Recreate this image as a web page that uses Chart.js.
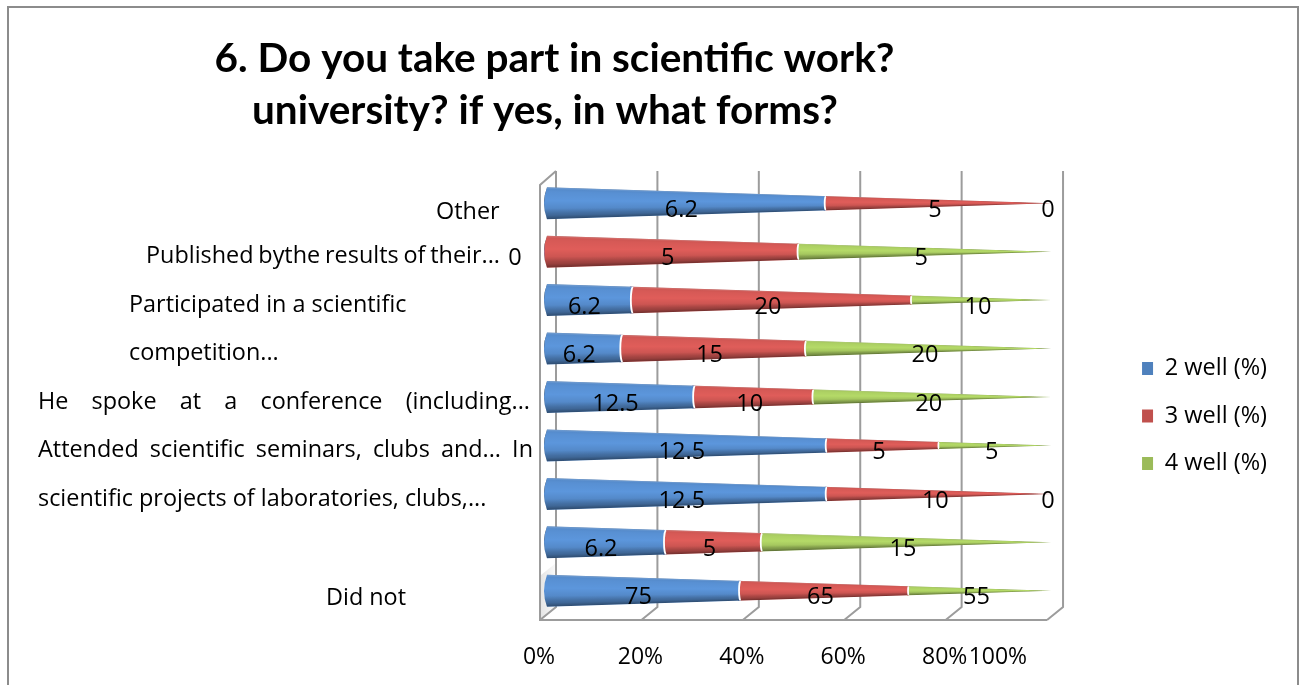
<!DOCTYPE html>
<html>
<head>
<meta charset="utf-8">
<title>Scientific work</title>
<script src="https://cdn.jsdelivr.net/npm/chart.js@4"></script>
<style>
  html, body { margin: 0; padding: 0; background: #fff; overflow: hidden; }
  canvas { display: block; }
</style>
</head>
<body>
<canvas id="chart" width="1303" height="685"></canvas>
<script>
// data, top row first
const rowLabels = [
  'Other',
  'Published bythe results of their...',
  'Participated in a scientific',
  'competition...',
  'He spoke at a conference (including...',
  'Attended scientific seminars, clubs and... In',
  'scientific projects of laboratories, clubs,...',
  '',
  'Did not'
];
const well2 = [6.2, 0, 6.2, 6.2, 12.5, 12.5, 12.5, 6.2, 75];
const well3 = [5, 5, 20, 15, 10, 5, 10, 5, 65];
const well4 = [0, 5, 10, 20, 20, 5, 0, 15, 55];
const seriesNames = ['2 well (%)', '3 well (%)', '4 well (%)'];
const tickLabels = ['0%', '20%', '40%', '60%', '80%', '100%'];
const titleLines = ['6. Do you take part in scientific work?', 'university? if yes, in what forms?'];

// look and layout
const series = [well2, well3, well4];
const colors = ['#4f81bd', '#c0504d', '#9bbb59'];
const tickSlots = [0, 20, 40, 60, 80, 90.5]; // the 100% label sits squeezed next to 80% in the original
const gridValues = [0, 20, 40, 60, 80, 100];
const labelLeft = [436, 146, 129, 129, 38, 38, 38, 0, 326];
const labelRight = [0, 500, 0, 0, 530, 533, 0, 0, 0]; // lines fitted to a width
const labelDrop = [9, 5, 5, 5, 5, 5, 5, 0, 8];
const titleCenter = [554.5, 545];
const titleBase = [72, 124];
const textFont = '"Open Sans", sans-serif';
const coneHeight = 32;

function shareOf(s, i) {
  const total = well2[i] + well3[i] + well4[i];
  return s[i] / total * 100;
}

function conePath(ctx, x0, x1, cy) {
  ctx.moveTo(x0 + 3, cy - coneHeight / 2);
  ctx.lineTo(x1, cy);
  ctx.lineTo(x0 + 3, cy + coneHeight / 2);
  ctx.quadraticCurveTo(x0 - 3, cy, x0 + 3, cy - coneHeight / 2);
  ctx.closePath();
}

const conePlugin = {
  id: 'cones',
  beforeDraw(chart) {
    const ctx = chart.ctx;
    const xs = chart.scales.x;
    const top = 171, floor = 607, dx = 12, drop = 13;
    ctx.save();
    // outer frame
    ctx.strokeStyle = '#8c8c8c';
    ctx.lineWidth = 2;
    ctx.strokeRect(8, 7, 1290, 720);
    // corner shadow
    const g = ctx.createLinearGradient(540, 0, 556, 0);
    g.addColorStop(0, '#e4e4e4');
    g.addColorStop(1, '#fafafa');
    ctx.fillStyle = g;
    ctx.beginPath();
    ctx.moveTo(541, 620); ctx.lineTo(556, floor); ctx.lineTo(556, 563); ctx.lineTo(541, 575);
    ctx.fill();
    // walls
    ctx.strokeStyle = '#9c9c9c';
    ctx.beginPath();
    gridValues.forEach(v => {
      const x = xs.getPixelForValue(v) + dx;
      ctx.moveTo(x, top);
      ctx.lineTo(x, floor);
      ctx.lineTo(x - dx - 4, floor + drop);
    });
    const left = xs.getPixelForValue(0) - 4;
    ctx.moveTo(left + 16, top);
    ctx.lineTo(left, top + 14);
    ctx.lineTo(left, floor + drop);
    ctx.lineTo(xs.getPixelForValue(100) - 4, floor + drop);
    ctx.stroke();
    ctx.restore();
  },
  beforeDatasetsDraw(chart) {
    const ctx = chart.ctx;
    const xs = chart.scales.x, ys = chart.scales.y;
    ctx.save();
    ctx.beginPath();
    rowLabels.forEach((_, i) => conePath(ctx, xs.getPixelForValue(0), xs.getPixelForValue(100), ys.getPixelForTick(i)));
    ctx.clip();
  },
  afterDatasetsDraw(chart) {
    const ctx = chart.ctx;
    const xs = chart.scales.x, ys = chart.scales.y;
    const x0 = xs.getPixelForValue(0), x1 = xs.getPixelForValue(100);
    const heightAt = x => coneHeight * (1 - (x - x0) / (x1 - x0));
    rowLabels.forEach((_, i) => {
      const cy = ys.getPixelForTick(i);
      // rounded joints between the pieces
      let run = 0;
      let prev = null;
      const joints = [];
      series.forEach((s, k) => {
        const before = run;
        run += shareOf(s, i);
        if (before > 0 && s[i] > 0) joints.push({ x: xs.getPixelForValue(before), color: colors[k], prev });
        if (s[i] > 0) prev = colors[k];
      });
      joints.forEach(j => {
        const h = heightAt(j.x), rx = h * 0.09;
        ctx.fillStyle = j.prev;
        ctx.fillRect(j.x - 1, cy - h / 2 - 1, rx + 1, h + 2);
        ctx.fillStyle = j.color;
        ctx.beginPath();
        ctx.ellipse(j.x + rx, cy, rx, h / 2, 0, 0, Math.PI * 2);
        ctx.fill();
      });
      // cone shading, narrowing with the cone
      for (let x = Math.floor(x0) - 4; x < x1; x += 2) {
        const h = Math.max(heightAt(x), 0.5);
        const y = cy - h / 2;
        const light = ctx.createLinearGradient(0, y, 0, y + h);
        light.addColorStop(0, 'rgba(36,36,36,0.3)');
        light.addColorStop(0.14, 'rgba(36,36,36,0.7)');
        light.addColorStop(0.42, 'rgba(36,36,36,1)');
        light.addColorStop(0.66, 'rgba(36,36,36,0.4)');
        light.addColorStop(0.82, 'rgba(36,36,36,0)');
        ctx.globalCompositeOperation = 'color-dodge';
        ctx.fillStyle = light;
        ctx.fillRect(x, y, 2, h);
        const dark = ctx.createLinearGradient(0, y, 0, y + h);
        dark.addColorStop(0, 'rgba(255,255,255,0.18)');
        dark.addColorStop(0.07, 'rgba(255,255,255,0)');
        dark.addColorStop(0.66, 'rgba(0,0,0,0)');
        dark.addColorStop(0.88, 'rgba(0,0,0,0.2)');
        dark.addColorStop(1, 'rgba(0,0,0,0.42)');
        ctx.globalCompositeOperation = 'source-over';
        ctx.fillStyle = dark;
        ctx.fillRect(x, y, 2, h);
      }
      ctx.strokeStyle = '#ffffff';
      ctx.lineWidth = 1.8;
      joints.forEach(j => {
        const h = heightAt(j.x), rx = h * 0.09;
        ctx.beginPath();
        ctx.ellipse(j.x + rx, cy, rx, h / 2, 0, Math.PI / 2, Math.PI * 1.5);
        ctx.stroke();
      });
    });
    ctx.restore();
  },
  afterDraw(chart) {
    const ctx = chart.ctx;
    const xs = chart.scales.x, ys = chart.scales.y;
    ctx.save();
    ctx.fillStyle = '#000';
    // title
    ctx.font = 'bold 40.5px Lato, sans-serif';
    ctx.textAlign = 'center';
    ctx.textBaseline = 'alphabetic';
    titleLines.forEach((t, i) => ctx.fillText(t, titleCenter[i], titleBase[i]));
    // row labels
    ctx.font = '23.4px ' + textFont;
    ctx.textAlign = 'left';
    ctx.textBaseline = 'middle';
    rowLabels.forEach((t, i) => {
      ctx.wordSpacing = '0px';
      if (labelRight[i]) {
        const gaps = t.split(' ').length - 1;
        ctx.wordSpacing = (labelRight[i] - labelLeft[i] - ctx.measureText(t).width) / gaps + 'px';
      }
      ctx.fillText(t, labelLeft[i], ys.getPixelForTick(i) + labelDrop[i]);
    });
    ctx.wordSpacing = '0px';
    // value labels
    ctx.font = '23.5px ' + textFont;
    ctx.textAlign = 'center';
    rowLabels.forEach((_, i) => {
      let run = 0;
      series.forEach(s => {
        const share = shareOf(s, i);
        let x = xs.getPixelForValue(run + share / 2) - 3;
        if (s[i] === 0 && run === 0) x -= 26; // empty first piece: label falls left of the wall
        ctx.fillText(s[i], x, ys.getPixelForTick(i) + 7);
        run += share;
      });
    });
    ctx.restore();
  }
};

new Chart(document.getElementById('chart'), {
  type: 'bar',
  plugins: [conePlugin],
  data: {
    labels: rowLabels,
    datasets: series.map((s, k) => ({
      label: seriesNames[k],
      data: s.map((_, i) => shareOf(s, i)),
      backgroundColor: colors[k],
      barThickness: coneHeight + 2,
      borderWidth: 0
    }))
  },
  options: {
    indexAxis: 'y',
    responsive: false,
    animation: false,
    layout: { padding: { left: 544, right: 26, top: 162, bottom: 15 } },
    scales: {
      x: {
        stacked: true,
        min: 0,
        max: 100,
        grid: { display: false },
        border: { display: false },
        afterBuildTicks(axis) { axis.ticks = tickSlots.map(value => ({ value })); },
        afterFit(axis) { axis.height = 55; },
        ticks: {
          callback: (v, i) => tickLabels[i],
          autoSkip: false,
          maxRotation: 0,
          labelOffset: -5,
          padding: 21,
          color: '#000',
          font: { family: textFont, size: 23 }
        }
      },
      y: { stacked: true, display: false },
      // empty axes, they only hold the plot away from the legend and the title
      spacer: {
        axis: 'y',
        type: 'linear',
        position: 'right',
        grid: { display: false },
        border: { display: false },
        ticks: { display: false },
        afterFit(axis) { axis.width = 67; }
      },
      spacerTop: {
        axis: 'x',
        type: 'linear',
        position: 'top',
        grid: { display: false },
        border: { display: false },
        ticks: { display: false },
        afterFit(axis) { axis.height = 17; }
      }
    },
    plugins: {
      tooltip: { enabled: false },
      title: { display: false },
      legend: {
        position: 'right',
        labels: {
          boxWidth: 11,
          boxHeight: 13,
          padding: 24,
          color: '#000',
          font: { family: textFont, size: 23.5 }
        }
      }
    }
  }
});
</script>
</body>
</html>
